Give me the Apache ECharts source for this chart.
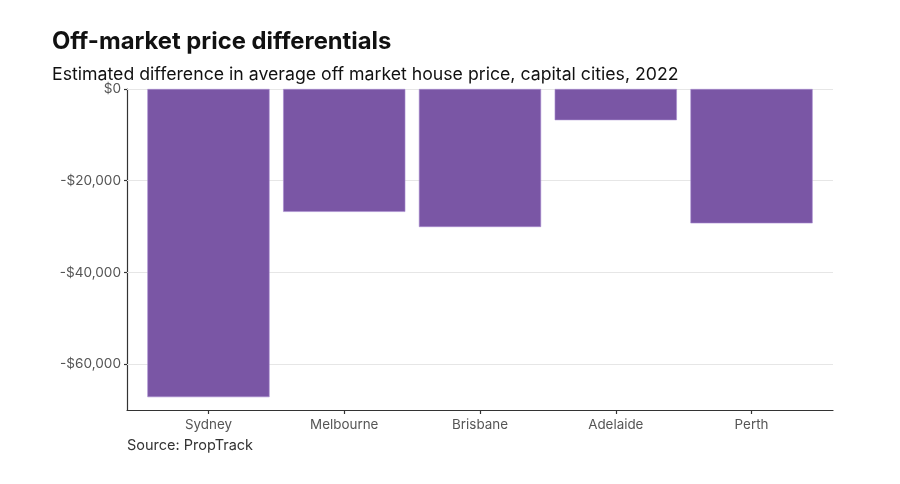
<!DOCTYPE html>
<html><head><meta charset="utf-8">
<script src="https://cdn.jsdelivr.net/npm/echarts@6/dist/echarts.min.js"></script>
<style>html,body{margin:0;padding:0;background:#fff}#c{width:900px;height:484px}</style>
</head><body><div id="c"></div>
<script>
const categories = ['Sydney', 'Melbourne', 'Brisbane', 'Adelaide', 'Perth'];
const values = [-67200, -26800, -30100, -6800, -29300];
const yTicks = [0, -20000, -40000, -60000];
const yMin = -70000, yMax = 0;

const chart = echarts.init(document.getElementById('c'));
const fmt = v => (v < 0 ? '-$' : '$') + Math.abs(v).toLocaleString('en-US');
const frameL = 127, frameR = 67, frameW = 900 - frameL - frameR;
const step = frameW / (categories.length + 0.2);
const pad = step * 0.1;
chart.setOption({
  animation: false,
  title: [
    {text: 'Off-market price differentials', left: 52, top: 30, padding: 0,
     textStyle: {fontFamily: 'Inter', fontWeight: 'bold', fontSize: 23.8, color: '#111'}},
    {text: 'Estimated difference in average off market house price, capital cities, 2022', left: 52, top: 66, padding: 0,
     textStyle: {fontFamily: 'Inter', fontWeight: 'normal', fontSize: 17.7, color: '#111'}},
    {text: 'Source: PropTrack', left: 127, top: 438, padding: 0,
     textStyle: {fontFamily: 'Inter', fontWeight: 'normal', fontSize: 14.5, color: '#333'}}
  ],
  grid: [
    {left: frameL, right: frameR, top: 89, bottom: 74},
    {left: frameL + pad, right: frameR + pad, top: 89, bottom: 74}
  ],
  xAxis: [
    {gridIndex: 0, type: 'value', min: 0, max: 1,
     axisLine: {show: true, onZero: false, lineStyle: {color: '#333', width: 1.2}},
     axisTick: {show: false}, axisLabel: {show: false}, splitLine: {show: false}},
    {gridIndex: 1, type: 'category', data: categories, boundaryGap: true,
     axisLine: {show: true, onZero: false, lineStyle: {color: '#333', width: 1.2}},
     axisTick: {show: true, inside: false, alignWithLabel: true, length: 4, lineStyle: {color: '#333', width: 1.2}},
     axisLabel: {fontFamily: 'Inter', fontSize: 13.4, color: '#555', margin: 8},
     splitLine: {show: false}}
  ],
  yAxis: [
    {gridIndex: 0, type: 'value', min: yMin, max: yMax,
     axisLine: {show: true, onZero: false, lineStyle: {color: '#333', width: 1.2}},
     axisTick: {show: true, inside: false, customValues: yTicks, length: 3, lineStyle: {color: '#333', width: 1.2}},
     axisLabel: {customValues: yTicks, formatter: fmt, fontFamily: 'Inter', fontSize: 13.6, color: '#555', margin: 6},
     splitLine: {show: false}},
    {gridIndex: 1, type: 'value', min: yMin, max: yMax, show: false}
  ],
  series: [
    {
      type: 'line', xAxisIndex: 0, yAxisIndex: 0, data: [], silent: true,
      markLine: {
        silent: true, symbol: 'none', label: {show: false}, z: 1,
        lineStyle: {color: '#e6e6e6', type: 'solid', width: 1},
        data: yTicks.map(t => ({yAxis: t}))
      }
    },
    {
      type: 'bar', xAxisIndex: 1, yAxisIndex: 1, barCategoryGap: '10%', z: 3,
      data: values,
      itemStyle: {color: '#7a56a5', borderColor: '#a88bd0', borderWidth: 0.6}
    }
  ]
});
</script></body></html>
